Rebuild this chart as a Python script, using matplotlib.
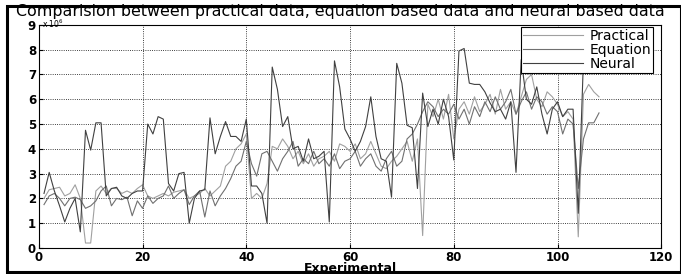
import matplotlib
matplotlib.use("Agg")
import matplotlib.pyplot as plt
from matplotlib.patches import Rectangle
import numpy as np

# sample index
experiment = np.arange(1, 109)

practical = [2.0, 2.35, 2.4, 2.45, 2.1, 2.2, 2.55, 2.0, 0.2, 0.2,
             2.3, 2.5, 2.2, 2.4, 2.4, 2.2, 2.3, 2.2, 2.4, 2.55,
             2.1, 2.0, 2.1, 2.2, 2.1, 2.25, 2.3, 2.35, 2.0, 2.1,
             2.2, 2.4, 2.1, 2.3, 2.5, 3.3, 3.5, 4.0, 4.2, 4.6,
             2.0, 2.2, 2.0, 2.6, 4.1, 4.0, 4.4, 4.1, 3.6, 3.9,
             3.4, 3.8, 3.3, 3.6, 3.7, 3.9, 3.5, 4.2, 4.1, 3.9,
             4.2, 3.6, 3.8, 4.3, 3.8, 3.3, 3.2, 3.5, 3.7, 4.0,
             4.3, 3.5, 4.4, 0.5, 5.8, 5.3, 6.0, 5.2, 6.2, 4.4,
             5.6, 5.9, 5.4, 6.1, 5.5, 5.8, 6.2, 5.4, 6.4, 5.6,
             5.9, 5.4, 6.1, 6.8, 7.0, 6.0, 5.7, 6.3, 6.1, 5.8,
             5.3, 5.5, 5.2, 0.45, 6.2, 6.6, 6.3, 6.1]

equation = [1.75, 2.1, 2.2, 2.0, 1.7, 2.0, 2.05, 1.95, 1.6, 1.7,
            1.9, 2.3, 2.5, 1.7, 2.0, 1.95, 2.05, 1.3, 1.9, 1.6,
            2.1, 1.8, 2.0, 2.1, 2.5, 2.0, 2.2, 2.35, 1.75, 2.1,
            2.3, 1.25, 2.3, 1.7, 2.1, 2.4, 2.8, 3.3, 3.5, 4.3,
            3.4, 2.9, 3.8, 3.9, 3.5, 3.1, 3.6, 3.9, 4.3, 3.3,
            3.6, 3.4, 3.9, 3.4, 3.6, 3.3, 3.8, 3.2, 3.5, 3.6,
            3.9, 3.3, 3.6, 3.8, 3.3, 3.1, 3.6, 3.9, 3.3, 3.5,
            4.4, 4.6, 5.0, 5.5, 5.9, 5.7, 5.3, 5.6, 5.4, 5.8,
            5.2, 5.6, 5.0, 5.7, 5.3, 5.9, 5.5, 6.1, 5.6, 5.9,
            6.4, 5.4, 5.9, 6.3, 5.6, 6.1, 5.9, 5.4, 5.7, 5.5,
            4.6, 5.2, 5.0, 2.4, 4.4, 5.05, 5.05, 5.45]

neural = [2.2, 3.05, 2.3, 1.7, 1.05, 1.6, 2.0, 0.65, 4.75, 3.95,
          5.05, 5.05, 2.1, 2.4, 2.45, 2.1, 2.0, 2.2, 2.3, 2.3,
          5.0, 4.6, 5.3, 5.2, 2.6, 2.3, 3.0, 3.05, 1.0, 2.0,
          2.3, 2.35, 5.25, 3.8, 4.5, 5.1, 4.5, 4.5, 4.3, 5.2,
          2.5, 2.5, 2.2, 1.0, 7.3, 6.4, 4.9, 5.3, 4.0, 4.1,
          3.5, 4.4, 3.6, 3.7, 3.9, 1.05, 7.55, 6.5, 4.8, 4.4,
          3.9, 4.3, 4.9, 6.1, 4.5, 3.6, 3.5, 2.05, 7.45, 6.65,
          4.95, 4.85, 2.4, 6.25, 4.9, 5.6, 5.0, 6.0, 5.3, 3.55,
          7.95, 8.05, 6.65, 6.6, 6.6, 6.3, 5.85, 5.5, 5.6, 5.2,
          5.9, 3.05, 7.6, 6.0, 5.8, 6.5, 5.4, 4.6, 5.6, 5.9,
          5.3, 5.6, 5.6, 1.4, 7.6, 7.1, 7.4, 7.8]

plt.rcParams['font.family'] = ['DejaVu Sans']

fig = plt.figure(figsize=(6.81, 2.74), dpi=100)
ax = fig.add_axes([0.057, 0.095, 0.914, 0.814])

ax.plot(experiment, practical, color='#a0a0a0', lw=0.8, label='Practical')
ax.plot(experiment, equation, color='#707070', lw=0.8, label='Equation')
ax.plot(experiment, neural, color='#404040', lw=0.8, label='Neural')

ax.set_xlim(0, 120)
ax.set_ylim(0, 9)
ax.set_xticks(range(0, 121, 20))
ax.set_yticks(range(0, 10))
ax.tick_params(direction='in', length=3, labelsize=8.5, pad=2)
for lab in ax.get_xticklabels() + ax.get_yticklabels():
    lab.set_fontweight('bold')
ax.grid(True, color='black', linestyle=':', linewidth=0.6)
for sp in ax.spines.values():
    sp.set_linewidth(0.8)

ax.set_xlabel('Experimental', fontsize=9, fontweight='bold', labelpad=-1)

fig.text(0.5, 0.958, 'Comparision between practical data, equation based data and neural based data',
         ha='center', va='center', fontsize=11.4)
fig.text(0.062, 0.912, r'x 10$^{6}$', fontsize=5.5, ha='left', va='center')

leg = ax.legend(loc='upper right', bbox_to_anchor=(0.987, 0.99), fontsize=10,
                fancybox=False, framealpha=1, edgecolor='black', borderpad=0.15,
                labelspacing=0.0, handlelength=4.3, handletextpad=0.5, borderaxespad=0)
leg.get_frame().set_linewidth(0.8)

fig.patches.append(Rectangle((7 / 681, 2 / 274), 1 - 7 / 681, 1 - 8 / 274,
                             transform=fig.transFigure, fill=False,
                             edgecolor='black', linewidth=2.2))

fig.savefig('out.png', dpi=100)
